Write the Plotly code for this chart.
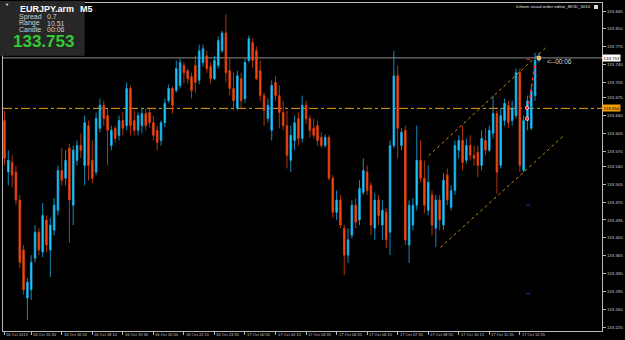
import plotly.graph_objects as go

# ---------------- data (EURJPY.arm, M5) ----------------
bars = list(range(141))

open_ = [133.630,133.529,133.548,133.529,133.474,133.376,133.282,133.298,133.360,133.411,
         133.372,133.435,133.376,133.415,133.454,133.532,133.517,133.576,133.464,133.552,
         133.581,133.542,133.620,133.552,133.529,133.615,133.660,133.640,133.581,133.615,
         133.601,133.630,133.620,133.693,133.630,133.611,133.620,133.644,133.646,133.626,
         133.611,133.591,133.626,133.669,133.693,133.689,133.699,133.738,133.728,133.716,
         133.738,133.709,133.744,133.757,133.736,133.712,133.738,133.767,133.802,133.728,
         133.693,133.654,133.712,133.673,133.748,133.783,133.767,133.728,133.679,133.634,
         133.611,133.705,133.679,133.646,133.620,133.552,133.591,133.634,133.595,133.660,
         133.634,133.615,133.620,133.597,133.581,133.597,133.517,133.450,133.474,133.419,
         133.366,133.405,133.464,133.435,133.489,133.529,133.503,133.419,133.474,133.425,
         133.450,133.411,133.581,133.718,133.581,133.611,133.386,133.425,133.464,133.552,
         133.517,133.454,133.484,133.419,133.474,133.425,133.523,133.460,133.493,133.572,
         133.591,133.552,133.581,133.562,133.568,133.542,133.591,133.572,133.605,133.644,
         133.542,133.630,133.660,133.630,133.640,133.724,133.532,133.630,133.615,133.679,
         133.748]
high = [133.650,133.572,133.562,133.542,133.484,133.386,133.321,133.366,133.425,133.419,
        133.468,133.444,133.439,133.478,133.542,133.576,133.572,133.585,133.581,133.591,
        133.605,133.640,133.630,133.591,133.646,133.673,133.669,133.654,133.620,133.620,
        133.640,133.646,133.705,133.699,133.650,133.646,133.654,133.654,133.654,133.640,
        133.620,133.630,133.673,133.701,133.697,133.748,133.752,133.744,133.732,133.724,
        133.757,133.779,133.779,133.767,133.744,133.757,133.795,133.806,133.838,133.752,
        133.724,133.728,133.724,133.752,133.797,133.791,133.775,133.748,133.685,133.673,
        133.709,133.718,133.699,133.669,133.650,133.620,133.640,133.646,133.679,133.669,
        133.640,133.634,133.630,133.607,133.603,133.601,133.523,133.493,133.484,133.425,
        133.419,133.474,133.478,133.513,133.556,133.542,133.509,133.487,133.484,133.474,
        133.458,133.591,133.767,133.738,133.615,133.620,133.474,133.478,133.620,133.591,
        133.552,133.542,133.493,133.484,133.484,133.527,133.536,133.503,133.591,133.601,
        133.620,133.595,133.601,133.581,133.581,133.611,133.615,133.620,133.679,133.650,
        133.654,133.673,133.669,133.669,133.732,133.732,133.640,133.679,133.699,133.763,
        133.763]
low = [133.542,133.503,133.499,133.464,133.341,133.288,133.239,133.278,133.352,133.366,
       133.362,133.372,133.323,133.405,133.444,133.503,133.503,133.390,133.425,133.542,
       133.556,133.503,133.513,133.507,133.523,133.607,133.620,133.542,133.572,133.587,
       133.591,133.601,133.611,133.601,133.601,133.601,133.605,133.611,133.617,133.591,
       133.572,133.581,133.617,133.665,133.644,133.685,133.693,133.703,133.703,133.673,
       133.685,133.701,133.736,133.724,133.703,133.709,133.732,133.763,133.705,133.679,
       133.650,133.650,133.654,133.665,133.744,133.734,133.709,133.669,133.620,133.626,
       133.591,133.669,133.615,133.611,133.536,133.529,133.572,133.581,133.587,133.624,
       133.597,133.595,133.581,133.576,133.577,133.513,133.439,133.435,133.419,133.327,
       133.351,133.399,133.419,133.425,133.484,133.484,133.405,133.396,133.425,133.396,
       133.380,133.366,133.576,133.556,133.572,133.386,133.351,133.415,133.454,133.509,
       133.448,133.444,133.405,133.382,133.415,133.415,133.464,133.454,133.484,133.556,
       133.532,133.546,133.552,133.542,133.519,133.532,133.562,133.568,133.595,133.487,
       133.536,133.620,133.615,133.620,133.634,133.529,133.529,133.611,133.611,133.669,
       133.744]
close = [133.556,133.552,133.523,133.474,133.352,133.298,133.313,133.352,133.411,133.376,
         133.444,133.386,133.425,133.464,133.532,133.513,133.552,133.474,133.572,133.581,
         133.572,133.626,133.542,133.517,133.634,133.660,133.634,133.611,133.611,133.595,
         133.630,133.615,133.693,133.620,133.611,133.640,133.644,133.620,133.626,133.601,
         133.587,133.626,133.664,133.693,133.660,133.732,133.744,133.724,133.712,133.689,
         133.705,133.767,133.771,133.732,133.712,133.748,133.787,133.802,133.724,133.693,
         133.669,133.718,133.669,133.744,133.791,133.748,133.712,133.679,133.650,133.660,
         133.699,133.679,133.646,133.620,133.562,133.601,133.626,133.595,133.660,133.634,
         133.611,133.601,133.591,133.581,133.597,133.517,133.450,133.474,133.425,133.366,
         133.396,133.464,133.431,133.497,133.532,133.493,133.425,133.474,133.444,133.454,
         133.396,133.581,133.718,133.615,133.607,133.396,133.464,133.464,133.552,133.517,
         133.464,133.509,133.425,133.474,133.435,133.513,133.474,133.493,133.581,133.591,
         133.548,133.581,133.562,133.556,133.542,133.595,133.572,133.611,133.644,133.529,
         133.640,133.664,133.626,133.654,133.724,133.542,133.630,133.669,133.689,133.748,
         133.753]

# time axis labels (bar index where each label sits)
time_label_bars = [0, 7, 15, 23, 31, 39, 47, 55, 63, 71, 79, 87, 95, 103, 111, 119, 127, 135]
time_labels = ["16 Oct 2013", "16 Oct 15:30", "16 Oct 16:50", "16 Oct 18:10", "16 Oct 19:30",
               "16 Oct 20:50", "16 Oct 22:15", "16 Oct 23:35", "17 Oct 00:55", "17 Oct 02:15",
               "17 Oct 03:35", "17 Oct 04:55", "17 Oct 06:15", "17 Oct 07:35", "17 Oct 08:55",
               "17 Oct 10:15", "17 Oct 11:35", "17 Oct 12:55"]

price_ticks = [133.845, 133.810, 133.775, 133.740, 133.705, 133.675, 133.640, 133.605,
               133.570, 133.540, 133.505, 133.470, 133.435, 133.400, 133.365, 133.330,
               133.295, 133.260, 133.225]

bid_price = 133.753
level_price = 133.654

channel_upper_bars = [111.1, 142.4]
channel_upper_prices = [133.561, 133.777]
channel_lower_bars = [114.2, 146.3]
channel_lower_prices = [133.381, 133.599]

order_bars = [136.9, 136.9]
order_prices = [133.655, 133.634]
red_path_bars = [138.9, 137.3]
red_path_prices = [133.738, 133.659]
red_dash_bars = [136.7, 137.7]
red_dash_prices = [133.750, 133.750]
blue_mark_bars = [137.2, 137.2]
blue_mark_prices = [133.464, 133.291]

# ---------------- figure ----------------
W, H = 625, 340
ML, MR, MT, MB = 3, 21, 2, 9
PW, PH = W - ML - MR, H - MT - MB


def px(x):
    return (x - ML) / PW


def py(y):
    return (H - MB - y) / PH


fig = go.Figure()

fig.add_trace(go.Candlestick(
    x=bars, open=open_, high=high, low=low, close=close,
    increasing=dict(line=dict(color="#16aeee", width=0.8), fillcolor="#1ed2ff"),
    decreasing=dict(line=dict(color="#e2400c", width=0.8), fillcolor="#ff4a12"),
    whiskerwidth=0, hoverinfo="skip", showlegend=False,
))

# channel lines
fig.add_trace(go.Scatter(x=channel_upper_bars, y=channel_upper_prices, mode="lines",
                         line=dict(color="#c98a12", width=1, dash="dot"),
                         hoverinfo="skip", showlegend=False))
fig.add_trace(go.Scatter(x=channel_lower_bars, y=channel_lower_prices, mode="lines",
                         line=dict(color="#c98a12", width=1, dash="dot"),
                         hoverinfo="skip", showlegend=False))
# red order path
fig.add_trace(go.Scatter(x=red_path_bars, y=red_path_prices, mode="lines",
                         line=dict(color="#ff1a1a", width=1.5, dash="dot"),
                         hoverinfo="skip", showlegend=False))
fig.add_trace(go.Scatter(x=red_dash_bars, y=red_dash_prices, mode="lines",
                         line=dict(color="#e02020", width=1),
                         hoverinfo="skip", showlegend=False))
fig.add_trace(go.Scatter(x=order_bars, y=order_prices, mode="markers",
                         marker=dict(symbol="circle", size=3.5, color="#ff2020",
                                     line=dict(color="#ffd0d0", width=0.8)),
                         hoverinfo="skip", showlegend=False))
fig.add_trace(go.Scatter(x=blue_mark_bars, y=blue_mark_prices, mode="markers",
                         marker=dict(symbol="line-ew", size=3,
                                     line=dict(color="#1030c0", width=1)),
                         hoverinfo="skip", showlegend=False))
fig.add_trace(go.Scatter(x=[bars[-1]], y=[close[-1]], mode="markers",
                         marker=dict(symbol="square", size=3.5, color="#f0b040",
                                     line=dict(color="#ffffff", width=0.5)),
                         hoverinfo="skip", showlegend=False))

shapes = [
    dict(type="line", xref="paper", yref="y", x0=0, x1=1, y0=bid_price, y1=bid_price,
         line=dict(color="#8c8c8c", width=1), layer="below"),
    dict(type="line", xref="paper", yref="y", x0=0, x1=1, y0=level_price, y1=level_price,
         line=dict(color="#f0a000", width=1, dash="dashdot"), layer="below"),
    # info panel
    dict(type="rect", xref="paper", yref="paper", x0=px(0), x1=px(85), y0=py(55), y1=py(0),
         fillcolor="#272727", line=dict(width=0), layer="above"),
    # small icon top-right
    dict(type="rect", xref="paper", yref="paper", x0=px(596), x1=px(600), y0=py(8), y1=py(4),
         fillcolor="#d8d8d8", line=dict(width=0), layer="above"),
]

small = "Liberation Sans"
ann = []
# time labels
for b, t in zip(time_label_bars, time_labels):
    ann.append(dict(x=b, xref="x", y=py(334.5), yref="paper", text=t, showarrow=False,
                    xanchor="left", yanchor="middle", xshift=0,
                    font=dict(family=small, size=4, color="#c8c8c8")))
# right axis price boxes
ann.append(dict(x=1, xref="paper", y=bid_price, yref="y", text=f"{bid_price:.3f}",
                showarrow=False, xanchor="left", yanchor="middle", bgcolor="#ffffff",
                borderpad=0.5, font=dict(family=small, size=4.4, color="#000000")))
ann.append(dict(x=1, xref="paper", y=level_price, yref="y", text=f"{level_price:.3f}",
                showarrow=False, xanchor="left", yanchor="middle", bgcolor="#f0a000",
                borderpad=0.5, font=dict(family=small, size=4.4, color="#000000")))
# candle timer
ann.append(dict(x=bars[-1] + 1.5, xref="x", y=133.745, yref="y", text="<--00:06",
                showarrow=False, xanchor="left", yanchor="middle",
                font=dict(family=small, size=6.5, color="#d8d8d8")))
# info panel text
ann += [
    dict(x=px(4), y=py(4), text="▼", font=dict(family=small, size=4, color="#ffffff")),
    dict(x=px(19), y=py(8), text="<b>EURJPY.arm</b>", font=dict(family=small, size=9, color="#ffffff")),
    dict(x=px(79), y=py(8), text="<b>M5</b>", font=dict(family=small, size=9, color="#ffffff")),
    dict(x=px(18), y=py(16), text="Spread", font=dict(family=small, size=7, color="#d0d0d0")),
    dict(x=px(46), y=py(16), text="0.7", font=dict(family=small, size=7, color="#d0d0d0")),
    dict(x=px(18), y=py(22.5), text="Range", font=dict(family=small, size=7, color="#d0d0d0")),
    dict(x=px(46), y=py(22.5), text="10.51", font=dict(family=small, size=7, color="#d0d0d0")),
    dict(x=px(18), y=py(29), text="Candle", font=dict(family=small, size=7, color="#d0d0d0")),
    dict(x=px(46), y=py(29), text="00:06", font=dict(family=small, size=7, color="#d0d0d0")),
    dict(x=px(12), y=py(41), text="<b>133.753</b>", font=dict(family=small, size=17, color="#33cc33")),
    dict(x=px(517), y=py(6), text="Ichtom visual order editor_MOD_5010",
         font=dict(family=small, size=4.4, color="#e0e0e0")),
]
for a in ann[-11:]:
    a.update(xref="paper", yref="paper", showarrow=False, xanchor="left", yanchor="middle",
             borderpad=0)

fig.update_layout(
    width=W, height=H,
    margin=dict(l=ML, r=MR, t=MT, b=MB, pad=0),
    paper_bgcolor="#000000", plot_bgcolor="#000000",
    showlegend=False, boxgap=0.4,
    shapes=shapes, annotations=ann,
    xaxis=dict(range=[-0.39, 156.53], rangeslider=dict(visible=False), showgrid=False,
               zeroline=False, showline=True, linecolor="#b8b8b8", linewidth=1, mirror=True,
               tickmode="array", tickvals=time_label_bars, ticks="outside", ticklen=3,
               tickcolor="#b8b8b8", showticklabels=False, fixedrange=True),
    yaxis=dict(range=[133.2172, 133.8607], side="right", showgrid=False, zeroline=False,
               showline=True, linecolor="#b8b8b8", linewidth=1, mirror=True,
               tickmode="array", tickvals=price_ticks,
               ticktext=[f"{v:.3f}" for v in price_ticks], ticks="outside", ticklen=3,
               tickcolor="#b8b8b8", tickfont=dict(family=small, size=4.4, color="#c8c8c8"),
               fixedrange=True),
)

fig.write_html("out.html")
